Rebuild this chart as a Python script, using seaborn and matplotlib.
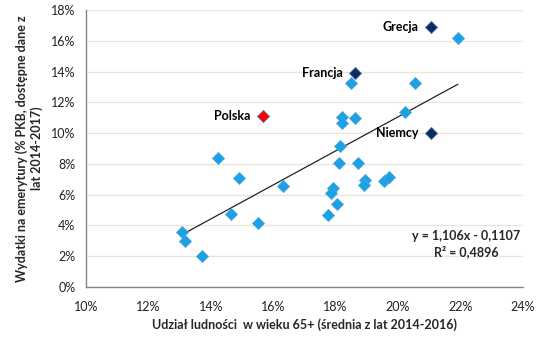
import numpy as np
import pandas as pd
import matplotlib
matplotlib.use("Agg")
import matplotlib.pyplot as plt
import seaborn as sns
from matplotlib.ticker import PercentFormatter

# Data (percent)
share_65 = [21.92, 18.49, 20.54, 18.20, 18.20, 18.62, 20.22, 18.14, 18.10, 18.72,
            14.23, 14.90, 16.31, 14.65, 15.51, 13.08, 13.17, 13.72, 18.94, 18.91,
            19.55, 19.71, 17.92, 17.85, 18.04, 17.76]
pension = [16.18, 13.25, 13.25, 11.07, 10.66, 10.98, 11.37, 9.16, 8.06, 8.06,
           8.38, 7.08, 6.56, 4.74, 4.16, 3.57, 2.99, 2.01, 6.95, 6.63,
           6.89, 7.15, 6.43, 6.11, 5.39, 4.68]
hl_names = ["Grecja", "Francja", "Polska", "Niemcy"]
hl_x = [21.06, 18.62, 15.67, 21.06]
hl_y = [16.90, 13.90, 11.11, 10.00]
hl_colors = ["#0d2a5e", "#0d2a5e", "#ff0000", "#0d2a5e"]
slope, intercept = 1.106, -0.1107
eq_text = "y = 1,106x - 0,1107\nR² = 0,4896"

df = pd.DataFrame({"x": np.array(share_65) / 100, "y": np.array(pension) / 100})
hl = pd.DataFrame({"x": np.array(hl_x) / 100, "y": np.array(hl_y) / 100,
                   "name": hl_names, "color": hl_colors})

sns.set_style("white")
plt.rcParams["font.family"] = ["Lato", "DejaVu Sans"]

fig = plt.figure(figsize=(5.44, 3.44), dpi=100)
ax = fig.add_axes([0.158, 0.166, 0.803, 0.805])

ax.set_axisbelow(True)
ax.yaxis.grid(True, color="#e8e6d9", linewidth=1.0)
ax.xaxis.grid(False)

# trend line
all_x = np.concatenate([df["x"].values, hl["x"].values])
xs = np.array([all_x.min(), all_x.max()])
ax.plot(xs, slope * xs + intercept, color="#222222", linewidth=0.9, zorder=2)

sns.scatterplot(data=df, x="x", y="y", ax=ax, marker="D", s=38,
                color="#19a3e6", edgecolor="#4f9fd8", linewidth=0.5, zorder=3)
for _, r in hl.iterrows():
    ax.scatter(r["x"], r["y"], marker="D", s=38, color=r["color"],
               edgecolor="#4a6fb0", linewidth=0.6, zorder=4)
    ax.annotate(r["name"], (r["x"], r["y"]), xytext=(-9, 0), textcoords="offset points",
                ha="right", va="center", fontsize=9, fontweight="bold", color="#000000")

ax.text(0.87, 0.155, eq_text, transform=ax.transAxes, ha="center", va="center",
        multialignment="center", fontsize=9, fontweight="bold", linespacing=1.3)

ax.set_xlim(0.10, 0.24)
ax.set_ylim(0, 0.18)
ax.set_xticks(np.arange(0.10, 0.2401, 0.02))
ax.set_yticks(np.arange(0, 0.1801, 0.02))
ax.xaxis.set_major_formatter(PercentFormatter(1.0, decimals=0))
ax.yaxis.set_major_formatter(PercentFormatter(1.0, decimals=0))
ax.tick_params(axis="both", direction="out", length=4, width=1, color="#868686",
               labelsize=9, labelcolor="#222222")
ax.tick_params(axis="x", pad=6)

for s in ["top", "right"]:
    ax.spines[s].set_visible(False)
for s in ["left", "bottom"]:
    ax.spines[s].set_color("#868686")
    ax.spines[s].set_linewidth(1.0)

ax.set_xlabel("Udział ludności  w wieku 65+ (średnia z lat 2014-2016)",
              fontsize=9, fontweight="bold", labelpad=4)
ax.set_ylabel("Wydatki na emerytury (% PKB, dostępne dane z\nlat 2014-2017)",
              fontsize=9, fontweight="bold", labelpad=6, linespacing=1.2)

fig.savefig("out.png", dpi=100)
